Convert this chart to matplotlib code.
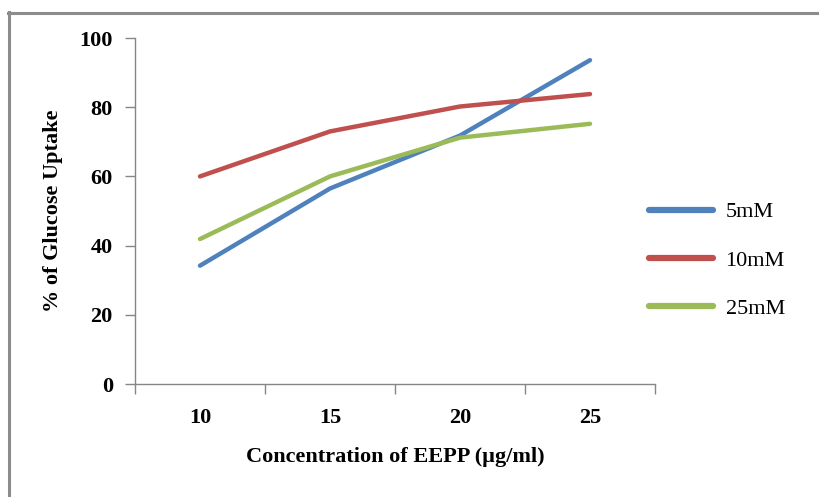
import matplotlib
matplotlib.use("Agg")
import matplotlib.pyplot as plt
from matplotlib.lines import Line2D

categories = ["10", "15", "20", "25"]
series_names = ["5mM", "10mM", "25mM"]
s_5mM = [34.2, 56.5, 71.8, 93.6]
s_10mM = [60.0, 73.0, 80.2, 83.8]
s_25mM = [41.9, 60.0, 71.2, 75.2]
colors = ["#4F81BD", "#C0504D", "#9BBB59"]
yticks = [0, 20, 40, 60, 80, 100]

plt.rcParams['font.family'] = ['Liberation Serif', 'DejaVu Serif']
FS = 16

fig = plt.figure(figsize=(8.19, 4.97), dpi=100)
ax = fig.add_axes([135/819, 1-384/497, 520/819, 346/497])

x = list(range(len(categories)))
for vals, name, c in zip([s_5mM, s_10mM, s_25mM], series_names, colors):
    ax.plot(x, vals, color=c, lw=3.2, solid_capstyle='round', label=name)

ax.set_xlim(-0.5, len(categories) - 0.5)
ax.set_ylim(0, 100)
ax.set_yticks(yticks)
ax.set_yticklabels([str(v) for v in yticks], fontsize=FS, fontweight='bold')
ax.set_xticks([i - 0.5 for i in range(len(categories) + 1)])
ax.set_xticklabels([])
ax.set_xticks(x, minor=True)
ax.set_xticklabels(categories, minor=True, fontsize=FS, fontweight='bold')
ax.tick_params(axis='x', which='minor', length=0, pad=17)
ax.tick_params(axis='x', which='major', length=7, color='#868686', width=1)
ax.tick_params(axis='y', length=7, color='#868686', width=1, pad=9)

for s in ['top', 'right']:
    ax.spines[s].set_visible(False)
for s in ['left', 'bottom']:
    ax.spines[s].set_color('#868686')
    ax.spines[s].set_linewidth(1)

ax.set_xlabel("Concentration of EEPP (µg/ml)", fontsize=FS, fontweight='bold', labelpad=14)
ax.set_ylabel("% of Glucose Uptake", fontsize=FS, fontweight='bold', labelpad=12)

leg = fig.legend(loc='upper left', bbox_to_anchor=(640/819, 1-193/497), frameon=False,
                 fontsize=FS, handlelength=2.9, labelspacing=1.25, handletextpad=0.55,
                 borderaxespad=0)
for h in leg.get_lines():
    h.set_linewidth(4.5)

fig.add_artist(Line2D([9/819, 9/819], [0, 1-12/497], color='#8c8c8c', lw=2.2, transform=fig.transFigure))
fig.add_artist(Line2D([8/819, 1], [1-12.5/497, 1-12.5/497], color='#8c8c8c', lw=2.2, transform=fig.transFigure))

fig.savefig("out.png", dpi=100)
